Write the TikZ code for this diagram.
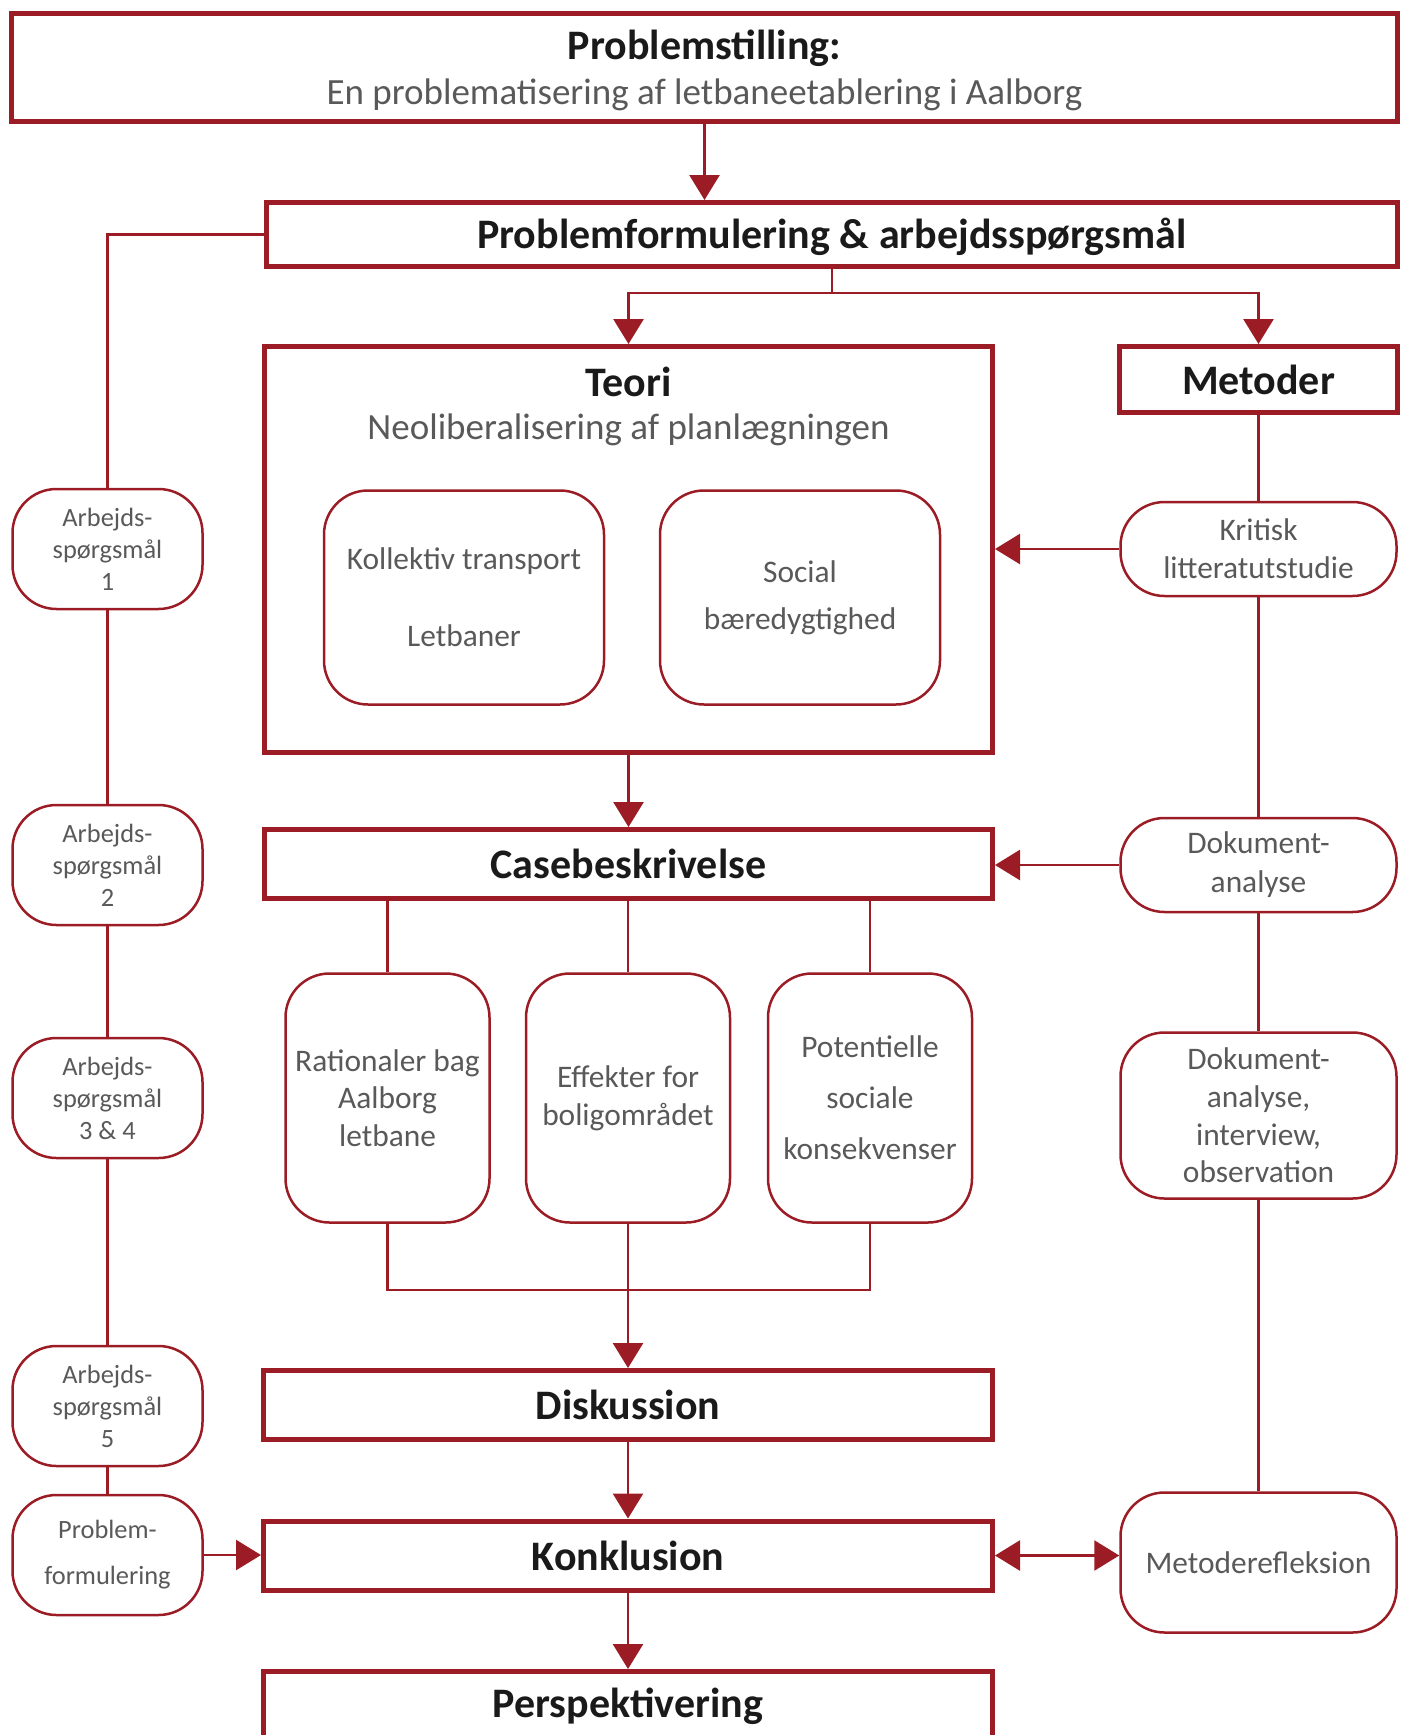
\documentclass[tikz,border=0pt]{standalone}
\usepackage{fontspec}
\setmainfont{Carlito}
\usetikzlibrary{arrows.meta}
\definecolor{aaured}{RGB}{155,28,36}
\definecolor{txtgray}{RGB}{89,89,89}
\definecolor{txtdark}{RGB}{26,26,26}

\begin{document}
\begin{tikzpicture}[x=0.5pt, y=-0.5pt,
  mainbox/.style={draw=aaured, line width=2.5pt, inner sep=0pt, align=center, text=txtdark, font=\fontsize{21}{25}\selectfont\bfseries},
  headtxt/.style={inner sep=0pt, text=txtdark, font=\fontsize{21}{25}\selectfont\bfseries},
  subtxt/.style={inner sep=0pt, text=txtgray, font=\fontsize{18.5}{22}\selectfont},
  roundbox/.style={draw=aaured, line width=1.25pt, rounded corners=22pt, inner sep=0pt, align=center, text=txtgray, font=\fontsize{15.7}{18.8}\selectfont},
  askbox/.style={roundbox, minimum width=95pt, minimum height=60pt, font=\fontsize{13.2}{16}\selectfont},
  subbox/.style={roundbox, minimum width=102pt, minimum height=124.5pt},
  methbox/.style={roundbox, minimum width=138pt},
  conn/.style={draw=aaured, line width=1.3pt},
  arr/.style={conn, -{Triangle[length=12.5pt, width=15pt]}}
]
\clip (0,0) rectangle (1407,1735);
% top boxes
\node[mainbox, minimum width=693pt, minimum height=54pt] (pstil) at (704.5,67.5) {};
\node[headtxt] (pstitle) at (704.5,48) {Problemstilling:};
\node[subtxt] (pssub) at (704.5,95) {En problematisering af letbaneetablering i Aalborg};
\node[mainbox, minimum width=565.5pt, minimum height=32pt, text depth=1pt] (pform) at (832,234.5) {Problemformulering \& arbejdsspørgsmål};
% theory
\node[mainbox, minimum width=364pt, minimum height=203pt] (teori) at (628.5,549.5) {};
\node[headtxt] (teorititle) at (628.5,382) {Teori};
\node[subtxt] (teorisub) at (628.5,430) {Neoliberalisering af planlægningen};
\node[roundbox, minimum width=140pt, minimum height=107pt, font=\fontsize{15.7}{38.5}\selectfont] (kol) at (464,597.5) {Kollektiv transport\\Letbaner};
\node[roundbox, minimum width=140pt, minimum height=107pt, font=\fontsize{15.7}{23.5}\selectfont] (soc) at (800,597.5) {Social\\bæredygtighed};
% methods
\node[mainbox, minimum width=139pt, minimum height=33pt] (metoder) at (1258.5,379.5) {Metoder};
\node[methbox, minimum height=47pt] (krit) at (1258.5,549) {Kritisk\\litteratutstudie};
\node[methbox, minimum height=47pt, font=\fontsize{15.7}{19.4}\selectfont] (dok1) at (1258.5,865) {Dokument-\\analyse};
\node[methbox, minimum height=83pt] (dok2) at (1258.5,1115.5) {Dokument-\\analyse,\\interview,\\observation};
\node[methbox, minimum height=70pt] (metref) at (1258.5,1562.5) {Metoderefleksion};
% case
\node[mainbox, minimum width=364pt, minimum height=34.5pt] (case) at (628.5,864) {Casebeskrivelse};
\node[subbox] (rat) at (387.5,1098) {Rationaler bag\\Aalborg\\letbane};
\node[subbox] (eff) at (628,1098) {Effekter for\\boligområdet};
\node[subbox, font=\fontsize{15.7}{25.5}\selectfont] (pot) at (870,1098) {Potentielle\\sociale\\konsekvenser};
% lower boxes
\node[mainbox, minimum width=364.5pt, minimum height=34.5pt] (disk) at (628,1405) {Diskussion};
\node[mainbox, minimum width=364.5pt, minimum height=34.5pt] (konk) at (628,1555.5) {Konklusion};
\node[mainbox, minimum width=364.5pt, minimum height=34.5pt] (persp) at (628,1706) {Perspektivering};
% left column
\node[askbox] (ask1) at (107.5,549) {Arbejds-\\spørgsmål\\1};
\node[askbox] (ask2) at (107.5,865) {Arbejds-\\spørgsmål\\2};
\node[askbox] (ask34) at (107.5,1098) {Arbejds-\\spørgsmål\\3 \& 4};
\node[askbox] (ask5) at (107.5,1406) {Arbejds-\\spørgsmål\\5};
\node[askbox, font=\fontsize{13.2}{23}\selectfont] (pfl) at (107.5,1555) {Problem-\\formulering};
% connectors
\coordinate (fork) at (832,293);
\coordinate (merge) at (628,1290);
\draw[arr] (pstil.south) -- (pstil.south |- pform.north);
\draw[conn] (pform.west) -| (ask1.north);
\draw[conn] (pform.south) -- (fork);
\draw[arr] (fork) -| (teori.north);
\draw[arr] (fork) -| (metoder.north);
\draw[conn] (ask1) -- (ask2) -- (ask34) -- (ask5) -- (pfl);
\draw[conn] (metoder) -- (krit) -- (dok1) -- (dok2) -- (metref);
\draw[arr] (krit.west) -- (krit.west -| teori.east);
\draw[arr] (dok1.west) -- (dok1.west -| case.east);
\draw[arr] (teori.south) -- (case.north);
\foreach \b in {rat,eff,pot}
  \draw[conn] (\b.north |- case.south) -- (\b.north);
\draw[conn] (rat.south) |- (merge) -| (pot.south);
\draw[arr] (eff.south) -- (disk.north);
\draw[arr] (disk.south) -- (konk.north);
\draw[arr] (konk.south) -- (persp.north);
\draw[arr] (pfl.east) -- (pfl.east -| konk.west);
\draw[conn, {Triangle[length=12.5pt, width=15pt]}-{Triangle[length=12.5pt, width=15pt]}] (konk.east) -- (konk.east -| metref.west);
\end{tikzpicture}
\end{document}
